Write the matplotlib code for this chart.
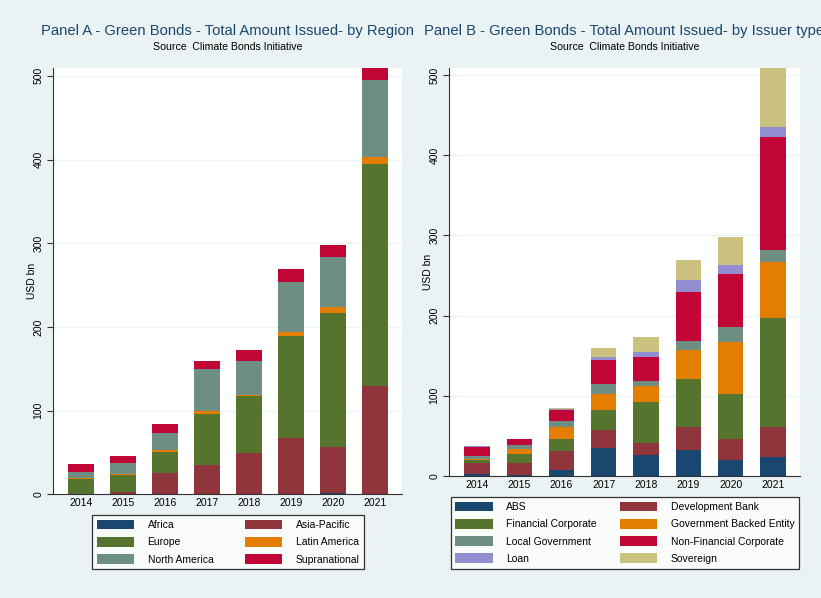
import matplotlib
matplotlib.use("Agg")
import matplotlib.pyplot as plt
import numpy as np

plt.rcParams['font.family'] = ['Liberation Sans', 'DejaVu Sans']

years = ["2014", "2015", "2016", "2017", "2018", "2019", "2020", "2021"]

# Panel A - by region (USD bn)
regions = ["Africa", "Asia-Pacific", "Europe", "Latin America", "North America", "Supranational"]
africa = [0.3, 0.3, 0.5, 0.6, 0.5, 0.4, 1.2, 0.5]
asia_pacific = [0.5, 3.0, 25.0, 34.5, 49.0, 67.0, 55.5, 129.5]
europe = [17.5, 19.8, 25.5, 61.3, 68.4, 122.2, 159.4, 264.6]
latin_america = [1.6, 1.2, 2.0, 3.2, 1.2, 4.8, 8.0, 8.0]
north_america = [7.2, 12.7, 20.3, 49.8, 39.9, 59.4, 59.7, 92.4]
supranational = [9.6, 8.8, 11.2, 10.0, 13.5, 15.5, 14.3, 14.3]

# Panel B - by issuer type (USD bn)
issuers = ["ABS", "Development Bank", "Financial Corporate", "Government Backed Entity",
           "Local Government", "Non-Financial Corporate", "Loan", "Sovereign"]
abs_ = [2.0, 1.2, 7.9, 35.3, 26.2, 32.0, 20.4, 23.7]
dev_bank = [14.2, 15.4, 23.7, 22.1, 15.4, 29.1, 26.2, 37.4]
fin_corp = [3.8, 10.8, 15.0, 24.9, 50.7, 59.9, 55.7, 136.0]
gov_backed = [1.2, 5.9, 14.5, 20.0, 20.0, 36.6, 65.3, 70.3]
local_gov = [4.2, 5.4, 7.5, 12.5, 6.2, 11.2, 18.3, 14.5]
nonfin_corp = [11.2, 7.5, 14.1, 30.3, 30.4, 60.7, 66.5, 140.8]
loan = [0.2, 0.1, 0.8, 3.3, 6.2, 15.0, 11.2, 12.5]
sovereign = [0.6, 0.2, 1.7, 11.3, 18.3, 24.9, 34.4, 73.5]

# stata s2color palette
cols = ["#1a476f", "#90353b", "#55752f", "#e37e00", "#6e8e84", "#c10534", "#938dd2", "#cac27e"]
bg = "#eaf2f3"

fig = plt.figure(figsize=(8.21, 5.98), dpi=100, facecolor=bg)
W, H = 821, 598


def make_ax(l, r, t, b):
    return fig.add_axes([l / W, 1 - b / H, (r - l) / W, (b - t) / H])


def draw_panel(ax, series, labels, width, ymax):
    x = np.arange(len(years))
    bottom = np.zeros(len(years))
    handles = []
    for vals, lab, c in zip(series, labels, cols):
        h = ax.bar(x, vals, width, bottom=bottom, color=c, linewidth=0, label=lab)
        handles.append(h)
        bottom += np.array(vals)
    ax.set_xlim(-0.66, 7.64)
    ax.set_ylim(0, ymax)
    ax.set_xticks(x)
    ax.set_xticklabels(years, fontsize=7.5)
    ax.tick_params(axis="x", length=0, pad=3)
    ax.set_yticks([0, 100, 200, 300, 400, 500])
    ax.tick_params(axis="y", length=4, width=0.8, labelsize=7.5, pad=3, color="#333333")
    for t in ax.get_yticklabels():
        t.set_rotation(90)
        t.set_va("center")
    ax.set_ylabel("USD bn", fontsize=7.5, labelpad=-3)
    ax.yaxis.grid(True, color=bg, linewidth=0.9)
    ax.set_axisbelow(True)
    ax.spines["top"].set_visible(False)
    ax.spines["right"].set_visible(False)
    ax.spines["left"].set_color("#333333")
    ax.spines["bottom"].set_color("#333333")
    ax.set_facecolor("white")
    return handles


leg_kw = dict(ncol=2, loc="upper center", fontsize=7.5, frameon=True, fancybox=False,
              edgecolor="black", handlelength=3.6, handleheight=1.05, handletextpad=1.3,
              labelspacing=0.66, borderpad=0.45, borderaxespad=0)

# Panel A
axA = make_ax(53, 402, 68, 494.3)
hA = draw_panel(axA, [africa, asia_pacific, europe, latin_america, north_america, supranational],
                regions, 0.62, 509.4)
fig.text(227.5 / W, 1 - 31 / H, "Panel A - Green Bonds - Total Amount Issued- by Region",
         ha="center", va="center", fontsize=10.6, color="#1a476f")
fig.text(227.5 / W, 1 - 47 / H, "Source  Climate Bonds Initiative",
         ha="center", va="center", fontsize=7.6, color="black")
order = [0, 2, 4, 1, 3, 5]
legA = fig.legend([hA[i] for i in order], [regions[i] for i in order],
                  bbox_to_anchor=(228 / W, 1 - 515 / H), columnspacing=3.0, **leg_kw)
legA.get_frame().set_linewidth(0.9)

# Panel B
axB = make_ax(449, 800, 68, 476)
hB = draw_panel(axB, [abs_, dev_bank, fin_corp, gov_backed, local_gov, nonfin_corp, loan, sovereign],
                issuers, 0.6, 508.8)
fig.text(624.5 / W, 1 - 31 / H, "Panel B - Green Bonds - Total Amount Issued- by Issuer type",
         ha="center", va="center", fontsize=10.6, color="#1a476f")
fig.text(624.5 / W, 1 - 47 / H, "Source  Climate Bonds Initiative",
         ha="center", va="center", fontsize=7.6, color="black")
orderB = [0, 2, 4, 6, 1, 3, 5, 7]
legB = fig.legend([hB[i] for i in orderB], [issuers[i] for i in orderB],
                  bbox_to_anchor=(625 / W, 1 - 497 / H), columnspacing=2.2, **leg_kw)
legB.get_frame().set_linewidth(0.9)

fig.savefig("out.png", dpi=100, facecolor=bg)
